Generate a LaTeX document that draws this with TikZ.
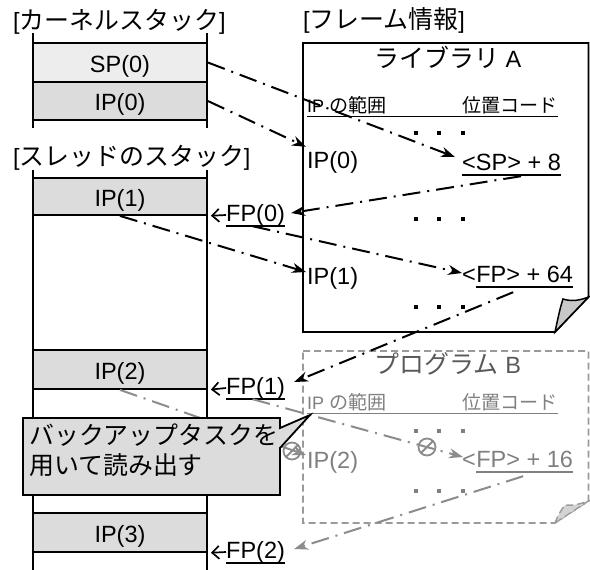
\documentclass[tikz,border=0pt]{standalone}
\usepackage{fontspec}
\setmainfont{Liberation Sans}
\newfontfamily\jp{Noto Sans CJK JP}[Scale=1.06]
\usetikzlibrary{arrows.meta,calc}
\definecolor{boxgray}{HTML}{DCDCDC}
\definecolor{lightbox}{HTML}{EDEDED}
\definecolor{arrgray}{HTML}{8C8C8C}
\definecolor{txtgray}{HTML}{808080}
\definecolor{titlegray}{HTML}{595959}
\definecolor{flapgray}{HTML}{C8C8C8}
\definecolor{pagegray}{HTML}{9A9A9A}
\begin{document}
\begin{tikzpicture}[x=1pt,y=-1pt,
  big/.style={font=\fontsize{23.5}{27}\selectfont, inner sep=0pt, text height=17pt, text depth=5pt},
  small/.style={font=\fontsize{18}{21}\selectfont, inner sep=0pt, text height=13pt, text depth=4pt},
  cell/.style={draw, line width=1.8pt, minimum width=174pt, inner sep=0pt,
    font=\fontsize{23.5}{27}\selectfont, text height=19pt, text depth=0pt},
  dd/.style={line width=2pt, dash pattern=on 18pt off 7pt on 2pt off 7pt,
    -{Stealth[length=14pt,width=10pt]}},
  ddg/.style={dd, draw=arrgray, -{Stealth[length=14pt,width=10pt,fill=arrgray]}},
  fparr/.style={line width=1.7pt, -{Straight Barb[length=7pt,width=13pt]}, shorten >=3pt},
  uline/.style={line width=1.6pt},
  stackline/.style={line width=1.5pt},
  nogo/.style={draw=arrgray, line width=1.8pt}
]
\useasboundingbox (0,0) rectangle (590,570);

% ---- stacks
\draw[stackline] (33,33) -- (33,128) (207,33) -- (207,128);
\draw[stackline] (33,170) -- (33,570) (207,170) -- (207,570);
\node[cell, fill=lightbox, minimum height=39pt] (sp0) at (120,62.5) {SP(0)};
\node[cell, fill=boxgray, minimum height=38pt] (ip0) at (120,101) {IP(0)};
\node[cell, fill=boxgray, minimum height=37pt] (ip1) at (120,196.5) {IP(1)};
\node[cell, fill=boxgray, minimum height=39pt] (ip2) at (120,369.5) {IP(2)};
\node[cell, fill=boxgray, minimum height=39pt] (ip3) at (120,532.5) {IP(3)};

\node[big, anchor=west] (tk) at (13,23) {[{\jp カーネルスタック}]};
\node[big, anchor=west] (tt) at (13,159) {[{\jp スレッドのスタック}]};
\node[big, anchor=west] (tf) at (303,22) {[{\jp フレーム情報}]};

% ---- page A (library A)
\draw[line width=1.8pt, fill=white] (303,43) -- (588.5,43) -- (588.5,297) -- (555,332) -- (303,332) -- cycle;
\draw[line width=1.5pt, fill=flapgray] (555,332) .. controls (558,318) and (560,308) .. (563,299)
  .. controls (572,302) and (581,300) .. (588.5,297) -- cycle;
\node[big] (libA) at (448,61) {{\jp ライブラリ} A};
\node[small, anchor=west] (hA1) at (307,107.5) {IP {\jp の範囲}};
\node[small, anchor=west] (hA2) at (462,107.5) {{\jp 位置コード}};
\draw[line width=1.4pt] (hA1.south west) -- (hA2.south east);
\foreach \y in {133,219,307} {\foreach \x in {416,439,463} {\fill (\x-2.2,\y-2.2) rectangle (\x+2.2,\y+2.2);}}
\node[big, anchor=west] (ipA0) at (307,162) {IP(0)};
\node[big, anchor=west] (sp8) at (462,164) {<SP> + 8};
\draw[uline] (sp8.south west) -- (sp8.south east);
\node[big, anchor=west] (ipA1) at (307,278) {IP(1)};
\node[big, anchor=west] (lt64) at (462,276) {<};
\node[big, anchor=west] (fp64) at (lt64.east) {FP> + 64};
\draw[uline] (fp64.south west) -- (fp64.south east);

% ---- page B (program B)
\draw[pagegray, line width=1.6pt, dash pattern=on 7pt off 4pt, fill=white]
  (303,351) -- (588.5,351) -- (588.5,501) -- (555,523) -- (303,523) -- cycle;
\draw[pagegray, line width=1.4pt, dash pattern=on 7pt off 4pt, fill=flapgray!80]
  (555,523) .. controls (558,515) and (561,510) .. (565,505)
  .. controls (572,506) and (580,504) .. (588.5,501) -- cycle;
\node[big, text=titlegray] (prgB) at (448,367) {{\jp プログラム} B};
\node[small, anchor=west, text=txtgray] (hB1) at (307,404.5) {IP {\jp の範囲}};
\node[small, anchor=west, text=txtgray] (hB2) at (462,404.5) {{\jp 位置コード}};
\draw[txtgray, line width=1.4pt] (hB1.south west) -- (hB2.south east);
\foreach \y in {431,491} {\foreach \x in {416,439,463} {\fill[txtgray] (\x-2.2,\y-2.2) rectangle (\x+2.2,\y+2.2);}}
\node[big, anchor=west, text=txtgray] (ipB2) at (307,462) {IP(2)};
\node[big, anchor=west, text=txtgray] (lt16) at (462,461) {<};
\node[big, anchor=west, text=txtgray] (fp16) at (lt16.east) {FP> + 16};
\draw[uline, txtgray] (fp16.south west) -- (fp16.south east);

% ---- FP labels
\node[big, anchor=west] (fp0) at (226,215) {FP(0)};
\draw[uline] (fp0.south west) -- (fp0.south east);
\node[big, anchor=west] (fp1) at (226,388) {FP(1)};
\draw[uline] (fp1.south west) -- (fp1.south east);
\node[big, anchor=west] (fp2) at (226,552) {FP(2)};
\draw[uline] (fp2.south west) -- (fp2.south east);
\draw[fparr] (fp0.west) -- (ip1.south east);
\draw[fparr] (fp1.west) -- (ip2.south east);
\draw[fparr] (fp2.west) -- (ip3.south east);

% ---- black dash-dot arrows
\draw[dd] (sp0.east) -- ($(sp8.west)+(-7,-7)$);
\draw[dd] (ip0.east) -- ($(ipA0.north west)+(-1,-4)$);
\draw[dd] ($(sp8.south east)+(-40,1)$) -- ($(fp0.east)+(6,-2)$);
\draw[dd] (ip1.south) -- ($(ipA1.west)+(-1,-6)$);
\draw[dd] ($(fp0.south)+(-3,0)$) -- ($(lt64.west)+(0,-3)$);
\draw[dd] ($(fp64.south east)+(-60,5)$) -- ($(fp1.east)+(9,-6)$);

% ---- gray dash-dot arrows
\draw[ddg] (ip2.south) -- ($(ipB2.west)+(-1,-7)$);
\draw[ddg] ($(fp1.south)+(-3,0)$) -- ($(lt16.west)+(1,-4)$);
\draw[ddg] ($(fp16.south east)+(-50,4)$) -- ($(fp2.east)+(9,-3)$);

% ---- callout
\draw[fill=boxgray, line width=1.8pt] (23,418) -- (280,418) -- (280,428) -- (310,415) -- (280,448) -- (280,495) -- (23,495) -- cycle;
\node[big, anchor=west] (co1) at (29,438) {\jp バックアップタスクを};
\node[big, anchor=west] (co2) at (29,468) {\jp 用いて読み出す};

% ---- blocked marks
\draw[nogo] (292,451) circle (8.5pt);
\draw[nogo] (286,457) -- (298,445);
\draw[nogo] (427,447) circle (8.5pt);
\draw[nogo] (421,453) -- (433,441);
\end{tikzpicture}
\end{document}
